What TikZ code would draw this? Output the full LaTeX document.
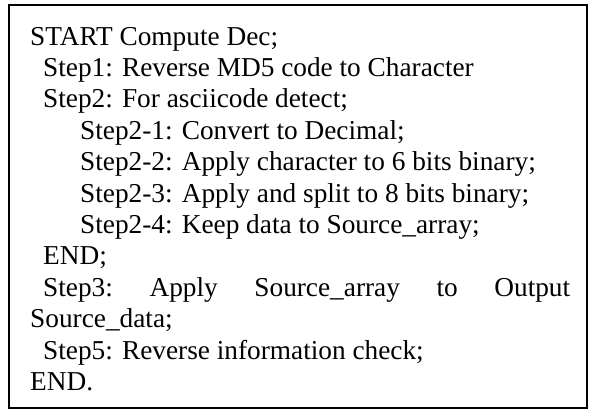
\documentclass[tikz,border=0pt]{standalone}
\usepackage{fontspec}
\setmainfont{Liberation Serif}
\begin{document}
\begin{tikzpicture}[x=1pt,y=-1pt,
  codeline/.style={anchor=base west, inner sep=0pt, font=\fontsize{27.3}{31}\selectfont},
  frame/.style={draw=black, line width=2pt}]
\useasboundingbox (0,0) rectangle (593,410);
\draw[frame] (9,5) rectangle (587,408);
\node[codeline] (l1) at (30,45) {START Compute Dec;};
\node[codeline] (l2) at (43,76.4) {Step1: Reverse MD5 code to Character};
\node[codeline] (l3) at (43,107.8) {Step2: For asciicode detect;};
\node[codeline] (l4) at (80,139.2) {Step2-1: Convert to Decimal;};
\node[codeline] (l5) at (80,170.6) {Step2-2: Apply character to 6 bits binary;};
\node[codeline] (l6) at (80,202) {Step2-3: Apply and split to 8 bits binary;};
\node[codeline] (l7) at (80,233.4) {Step2-4: Keep data to Source\_array;};
\node[codeline] (l8) at (43,264.8) {END;};
\node[codeline] (l9) at (43,296.2) {\hbox to 527pt{Step3:\hfill Apply\hfill Source\_array\hfill to\hfill Output}};
\node[codeline] (l10) at (30,327.6) {Source\_data;};
\node[codeline] (l11) at (43,359) {Step5: Reverse information check;};
\node[codeline] (l12) at (30,390.4) {END.};
\end{tikzpicture}
\end{document}
